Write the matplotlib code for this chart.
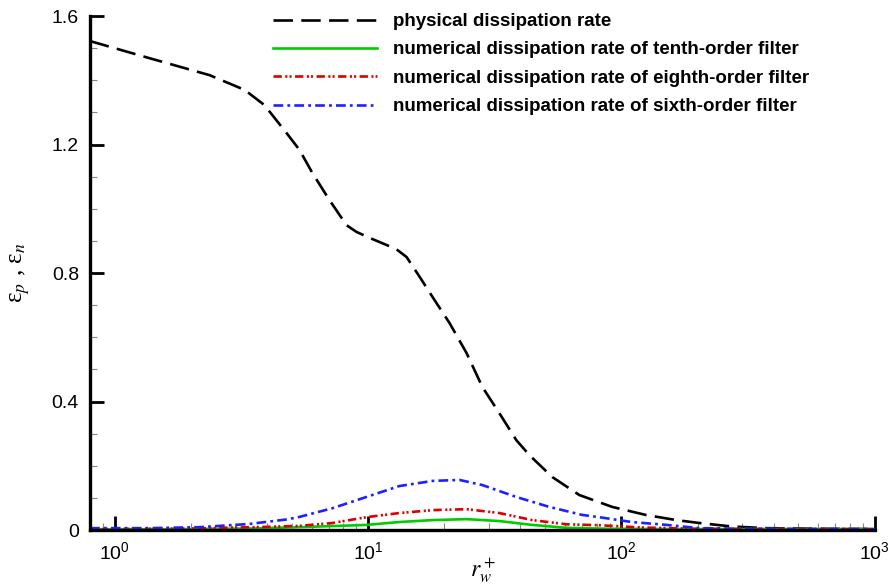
import matplotlib

matplotlib.use("Agg")
import matplotlib.pyplot as plt
from matplotlib.ticker import FixedLocator, LogLocator, NullFormatter

plt.rcParams["font.family"] = ["Liberation Sans", "DejaVu Sans"]
plt.rcParams["mathtext.fontset"] = "stix"
plt.rcParams["lines.scale_dashes"] = False

# physical dissipation rate (black dashed)
phys_x = [0.8, 1.37, 2.37, 3.26, 3.9, 4.77, 5.37, 6.04, 7.05, 8.23, 9.01, 10.4, 12.9,
          14.2, 16.0, 18.0, 21.0, 24.5, 28.3, 33.0, 38.5, 43.4, 53.4, 68.3, 92.1, 125,
          165, 203, 274, 373, 600, 1000]
phys_y = [1.522, 1.469, 1.416, 1.370, 1.323, 1.236, 1.183, 1.111, 1.027, 0.949, 0.928,
          0.906, 0.875, 0.850, 0.788, 0.725, 0.644, 0.551, 0.445, 0.364, 0.280, 0.233,
          0.165, 0.109, 0.072, 0.047, 0.031, 0.022, 0.011, 0.006, 0.004, 0.003]

# numerical dissipation, tenth-order filter (green)
tenth_x = [0.8, 2.0, 3.5, 5.37, 9.86, 13.3, 18.0, 24.5, 33.0, 44.5, 60.6, 90, 200, 1000]
tenth_y = [0.002, 0.003, 0.005, 0.009, 0.016, 0.025, 0.031, 0.034, 0.028, 0.016, 0.007,
           0.004, 0.003, 0.003]

# numerical dissipation, eighth-order filter (red)
eighth_x = [0.8, 2.0, 3.97, 5.37, 7.24, 9.86, 13.3, 18.0, 24.5, 33.0, 44.5, 60.6, 82,
            120, 200, 1000]
eighth_y = [0.003, 0.005, 0.010, 0.013, 0.022, 0.040, 0.053, 0.062, 0.065, 0.053, 0.031,
            0.018, 0.015, 0.008, 0.004, 0.003]

# numerical dissipation, sixth-order filter (blue)
sixth_x = [0.8, 1.37, 2.16, 3.41, 4.77, 5.37, 7.24, 9.86, 13.3, 18.0, 23.0, 28.3, 38.5,
           52.0, 70.2, 81.9, 110, 151, 203, 300, 1000]
sixth_y = [0.006, 0.006, 0.009, 0.019, 0.033, 0.041, 0.068, 0.103, 0.137, 0.153, 0.156,
           0.140, 0.103, 0.072, 0.047, 0.040, 0.025, 0.016, 0.006, 0.004, 0.003]

labels = [
    "physical dissipation rate",
    "numerical dissipation rate of tenth-order filter",
    "numerical dissipation rate of eighth-order filter",
    "numerical dissipation rate of sixth-order filter",
]
y_ticks = [0, 0.4, 0.8, 1.2, 1.6]
y_tick_labels = ["0", "0.4", "0.8", "1.2", "1.6"]

fig = plt.figure(figsize=(8.88, 5.87), dpi=100)
ax = fig.add_axes([0.1014, 0.097, 0.8836, 0.8757])

lw = 1.9
ax.plot(phys_x, phys_y, color="black", lw=lw, dashes=(14, 6), dash_capstyle="butt",
        label=labels[0])
ax.plot(tenth_x, tenth_y, color="#00cc00", lw=lw, label=labels[1])
ax.plot(eighth_x, eighth_y, color="#dd0000", lw=lw,
        dashes=(6, 2.5, 1.5, 1.5, 1.5, 2.5), dash_capstyle="butt", label=labels[2])
ax.plot(sixth_x, sixth_y, color="#2020ff", lw=lw, dashes=(7, 3, 2, 3),
        dash_capstyle="butt", label=labels[3])

ax.set_xscale("log")
ax.set_xlim(0.8, 1000)
ax.set_ylim(0, 1.6)

ax.set_yticks(y_ticks)
ax.set_yticklabels(y_tick_labels)
ax.yaxis.set_minor_locator(FixedLocator([i / 10 for i in range(17)]))
ax.xaxis.set_major_locator(LogLocator(base=10, numticks=10))
ax.xaxis.set_minor_locator(LogLocator(base=10, subs=range(2, 10), numticks=20))
ax.xaxis.set_minor_formatter(NullFormatter())

for side in ("top", "right"):
    ax.spines[side].set_visible(False)
for side in ("left", "bottom"):
    ax.spines[side].set_linewidth(2.4)

ax.tick_params(which="major", direction="in", length=10, width=2, labelsize=14, pad=8)
ax.tick_params(which="minor", direction="in", length=5, width=0.8, color="#888888")

ax.set_xlabel(r"$r_w^+$", fontsize=17, labelpad=-5)
ax.set_ylabel(r"ε$_p$ , ε$_n$", fontsize=18, labelpad=14,
              family=["Liberation Serif", "DejaVu Serif"])

ax.legend(loc="upper left", bbox_to_anchor=(0.233, 1.006), frameon=False,
          prop={"weight": "bold", "size": 13.5}, handlelength=5.55, handletextpad=0.85,
          labelspacing=0.6, borderpad=0, borderaxespad=0)

fig.savefig("out.png", dpi=100)
